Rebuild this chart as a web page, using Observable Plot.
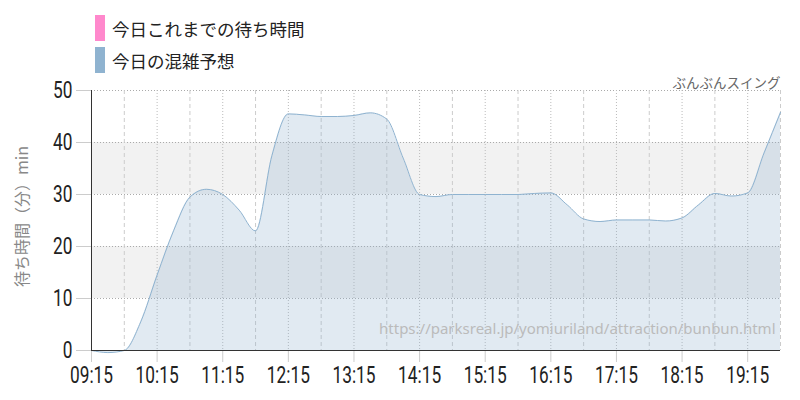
<!DOCTYPE html>
<html><head><meta charset="utf-8">
<script src="https://cdn.jsdelivr.net/npm/d3@7"></script>
<script src="https://cdn.jsdelivr.net/npm/@observablehq/plot@0.6"></script>
<style>
body{margin:0;background:#fff;font-family:"Noto Sans CJK JP",sans-serif;}
#wrap{position:relative;width:800px;height:400px;overflow:hidden;}
#legend{position:absolute;left:95px;top:12px;}
.item{display:flex;align-items:center;height:32px;font-size:17.5px;color:#222;font-family:"Noto Sans CJK JP",sans-serif;}
.sw{width:10px;height:26px;margin-right:7px;}
#chart{position:absolute;left:0;top:60px;}
</style></head>
<body><div id="wrap"><div id="legend"></div><div id="chart"></div></div>
<script>
// ---- data ----
const seriesNames = ["今日これまでの待ち時間", "今日の混雑予想"];
const seriesColors = ["#ff88cc", "#8fb3d0"];
const times = ["09:15","09:30","09:45","10:00","10:15","10:30","10:45","11:00","11:15","11:30","11:45",
  "12:00","12:15","12:30","12:45","13:00","13:15","13:30","13:45","14:00","14:15","14:30","14:45",
  "15:00","15:15","15:30","15:45","16:00","16:15","16:30","16:45","17:00","17:15","17:30","17:45",
  "18:00","18:15","18:30","18:45","19:00","19:15","19:30","19:45"];
const forecast = [0,-0.4,0,5.5,14.5,23,29.5,31,30,27,23,
  37.5,45.5,45.3,45,45,45.2,45.7,44.5,37,30,29.6,30,
  30,30,30,30,30.2,30.3,28,25.3,24.8,25.1,25.1,25.1,
  24.9,25.5,28,30.2,29.7,30.3,38,45.8];
const actualTimes = [];
const actualValues = [];
const tickLabels = ["09:15","10:15","11:15","12:15","13:15","14:15","15:15","16:15","17:15","18:15","19:15"];
const halfHourLines = ["09:45","10:45","11:45","12:45","13:45","14:45","15:45","16:45","17:45","18:45","19:45"];
const yTicks = [0,10,20,30,40,50];
const bandLow = [10,30];
const bandHigh = [20,40];
const chartTitle = "ぶんぶんスイング";
const yLabel = "待ち時間（分）min";
const sourceUrl = "https://parksreal.jp/yomiuriland/attraction/bunbun.html";
const xStart = "09:15", xEnd = "19:45";

// ---- helpers ----
const toMin = s => { const [h,m] = s.split(":").map(Number); return h*60+m; };
const fmt = m => String(Math.floor(m/60)).padStart(2,"0") + ":" + String(m%60).padStart(2,"0");
const data = times.map((t,i)=>({t:toMin(t), v:forecast[i]}));
const actual = actualTimes.map((t,i)=>({t:toMin(t), v:actualValues[i]}));
const bands = bandLow.map((lo,i)=>({lo, hi:bandHigh[i]}));
const x0 = toMin(xStart), x1 = toMin(xEnd);
const ticks = tickLabels.map(toMin);

// legend
const leg = document.getElementById("legend");
seriesNames.forEach((n,i)=>{
  const d = document.createElement("div"); d.className="item";
  const s = document.createElement("span"); s.className="sw"; s.style.background=seriesColors[i];
  d.appendChild(s); d.appendChild(document.createTextNode(n)); leg.appendChild(d);
});

const numFont = 'Roboto, sans-serif';
const cjk = '"Noto Sans CJK JP",sans-serif';

const chart = Plot.plot({
  width: 800, height: 340,
  marginLeft: 91, marginRight: 20, marginTop: 30, marginBottom: 50,
  style: {fontFamily: numFont, fontSize: "24px", color: "#222", background: "transparent", overflow: "visible"},
  x: {domain: [x0, x1], label: null},
  y: {domain: [0, 50], label: null},
  marks: [
    Plot.rect(bands, {x1: () => x0, x2: () => x1, y1: "lo", y2: "hi", fill: "#f2f2f2"}),
    Plot.gridY(yTicks.slice(1), {stroke: "#aaa", strokeOpacity: 1, strokeDasharray: "1,2"}),
    Plot.gridX(ticks.slice(1), {stroke: "#bbb", strokeOpacity: 1, strokeDasharray: "1,2"}),
    Plot.gridX(halfHourLines.map(toMin), {stroke: "#ccc", strokeOpacity: 1, strokeDasharray: "4,3"}),
    Plot.areaY(data, {x: "t", y: "v", curve: "monotone-x", fill: seriesColors[1], fillOpacity: 0.27}),
    Plot.lineY(data, {x: "t", y: "v", curve: "monotone-x", stroke: seriesColors[1], strokeWidth: 1}),
    Plot.lineY(actual, {x: "t", y: "v", curve: "monotone-x", stroke: seriesColors[0], strokeWidth: 2}),
    Plot.axisX({ticks, tickFormat: fmt, tickSize: 12, tickPadding: 3, stroke: "#ccc", fill: "#222", fontSize: 24}),
    Plot.axisY({ticks: yTicks, tickSize: 15, tickPadding: 4, stroke: "#ccc", fill: "#222", fontSize: 24}),
    Plot.ruleY([0], {stroke: "#333"}),
    Plot.ruleX([x0], {stroke: "#333"}),
    Plot.text([chartTitle], {frameAnchor: "top-right", dy: -12, textAnchor: "end", fill: "#666", fontSize: 13.5, fontFamily: cjk}),
    Plot.text([sourceUrl], {frameAnchor: "bottom-right", dx: -5, dy: -17, textAnchor: "end", fill: "#bbb", fontSize: 15, fontFamily: '"Noto Sans", sans-serif'}),
    Plot.text([yLabel], {frameAnchor: "left", dx: -69, dy: -4, rotate: -90, textAnchor: "middle", fill: "#888", fontSize: 16, fontFamily: cjk})
  ]
});
document.getElementById("chart").appendChild(chart);
// condense tick labels horizontally (narrow numerals as in the reference)
chart.querySelectorAll('g[aria-label="x-axis tick label"] text, g[aria-label="y-axis tick label"] text').forEach(t => {
  const len = t.getComputedTextLength();
  t.setAttribute("textLength", (len * 0.72).toFixed(1));
  t.setAttribute("lengthAdjust", "spacingAndGlyphs");
});
</script>
</body></html>
